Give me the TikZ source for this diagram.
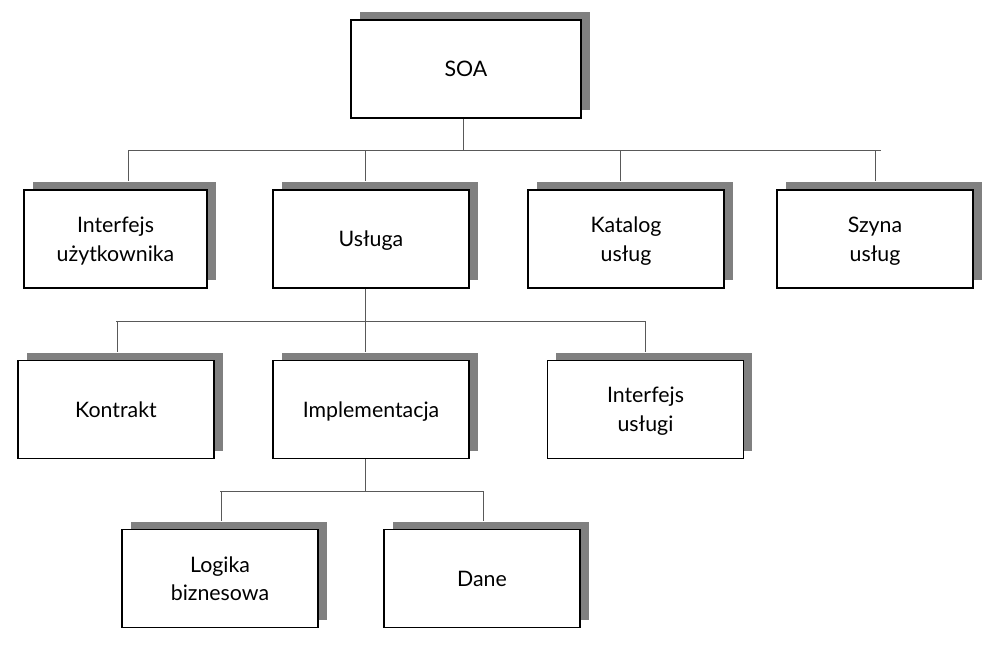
\documentclass[tikz,border=0pt]{standalone}
\usepackage{fontspec}
\setmainfont{Lato}
\usetikzlibrary{shadows}

\begin{document}
\begin{tikzpicture}[x=0.75pt,y=-0.75pt]
         \tikzset{box/.style={draw,line width=0.9pt,fill=white,align=center,inner sep=0pt,
            minimum width=147pt,minimum height=73.5pt,font=\fontsize{16}{21.5}\selectfont,text depth=0pt,
            drop shadow={shadow xshift=6.4pt,shadow yshift=6pt,opacity=1,fill=black!50}}}
         \tikzset{link/.style={draw=black!65,line width=0.75pt}}
         \useasboundingbox (0,0) rectangle (997,653);
         \node[box,minimum width=172.5pt] (soa) at (466,69) {SOA};
         \node[box,minimum width=137.25pt] (ui) at (115.5,239) {Interfejs\\użytkownika};
         \node[box] (usl) at (371,239) {Usługa};
         \node[box] (kat) at (626,239) {Katalog\\usług};
         \node[box] (szy) at (875,239) {Szyna\\usług};
         \node[box] (kon) at (116,409.5) {Kontrakt};
         \node[box] (impl) at (371,409.5) {Implementacja};
         \node[box] (ifu) at (645.5,409.5) {Interfejs\\usługi};
         \node[box] (log) at (220,578.5) {Logika\\biznesowa};
         \node[box] (dane) at (482,578.5) {Dane};
         \coordinate (b1) at (881,150);
         \coordinate (b2) at (646,321);
         \coordinate (b3) at (483,491);
         \draw[link] ([xshift=-2.25pt]soa.south) -- ([xshift=-2.25pt]soa.south |- b1);
         \draw[link] ([xshift=10pt]ui.north |- b1) -- (b1);
         \draw[link] ([xshift=-4.5pt]usl.south) -- ([xshift=-4.5pt]usl.south |- b2);
         \draw[link] (kon.north |- b2) -- (b2);
         \draw[link] ([xshift=-4.5pt]impl.south) -- ([xshift=-4.5pt]impl.south |- b3);
         \draw[link] (log.north |- b3) -- (b3);
         \foreach \n/\d in {ui/10,usl/-4.5,kat/-4.5,szy/0}
            \draw[link] ([xshift=\d pt]\n.north |- b1) -- ([shift={(\d pt,6pt)}]\n.north);
         \foreach \n/\d in {kon/0.75,impl/-4.5,ifu/0}
            \draw[link] ([xshift=\d pt]\n.north |- b2) -- ([shift={(\d pt,6pt)}]\n.north);
         \foreach \n/\d in {log/0.75,dane/0.75}
            \draw[link] ([xshift=\d pt]\n.north |- b3) -- ([shift={(\d pt,6pt)}]\n.north);
      \end{tikzpicture}
\end{document}
